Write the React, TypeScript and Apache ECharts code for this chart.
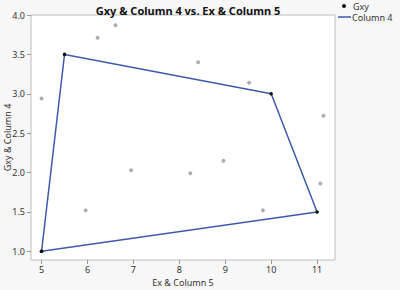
import React, { useEffect, useRef } from "react";
import * as echarts from "echarts";

const gxyX = [5.0, 6.22, 6.61, 8.41, 9.52, 11.14, 5.96, 6.95, 8.24, 8.96, 9.82, 11.07];
const gxyY = [2.94, 3.71, 3.87, 3.4, 3.14, 2.72, 1.52, 2.03, 1.99, 2.15, 1.52, 1.86];
const col4X = [5, 5.5, 10, 11, 5];
const col4Y = [1.0, 3.5, 3.0, 1.5, 1.0];
const xTicks = [5, 6, 7, 8, 9, 10, 11];
const yTicks = [1.0, 1.5, 2.0, 2.5, 3.0, 3.5, 4.0];

const FONT = "'Noto Sans', 'DejaVu Sans', sans-serif";
const BLUE = "#3d5ab0";

export default function App() {
  const ref = useRef<HTMLDivElement>(null);
  useEffect(() => {
    if (!ref.current) return;
    const chart = echarts.init(ref.current, undefined, { renderer: "svg" });
    const axisLabel = { color: "#333", fontSize: 9, lineHeight: 10, fontFamily: FONT };
    chart.setOption({
      animation: false,
      backgroundColor: "#f7f7f7",
      title: {
        text: "Gxy & Column 4 vs. Ex & Column 5",
        left: 183,
        textAlign: "center",
        top: 0,
        textStyle: { fontSize: 11, fontWeight: "bold", color: "#111", fontFamily: FONT },
      },
      grid: {
        left: 31,
        right: 65,
        top: 15,
        bottom: 30,
        show: true,
        backgroundColor: "#ffffff",
        borderColor: "#bdbdbd",
        borderWidth: 1,
        containLabel: false,
        outerBoundsMode: "none",
      },
      xAxis: {
        type: "value",
        min: 4.77,
        max: 11.39,
        name: "Ex & Column 5",
        nameLocation: "middle",
        nameGap: 17,
        nameMoveOverlap: false,
        nameTextStyle: { color: "#333", fontSize: 9, lineHeight: 10, fontFamily: FONT },
        axisLine: { show: false },
        splitLine: { show: false },
        axisTick: { show: true, length: 4, lineStyle: { color: "#999" }, customValues: xTicks },
        axisLabel: { ...axisLabel, margin: 4, customValues: xTicks },
      },
      yAxis: {
        type: "value",
        min: 0.89,
        max: 4.0,
        name: "Gxy & Column 4",
        nameLocation: "middle",
        nameGap: 19,
        nameMoveOverlap: false,
        nameTextStyle: { color: "#333", fontSize: 9, lineHeight: 10, fontFamily: FONT },
        axisLine: { show: false },
        splitLine: { show: false },
        axisTick: { show: true, length: 4, lineStyle: { color: "#999" }, customValues: yTicks },
        axisLabel: {
          ...axisLabel,
          margin: 6,
          customValues: yTicks,
          formatter: (v: number) => v.toFixed(1),
        },
      },
      series: [
        {
          name: "Gxy",
          type: "scatter",
          symbol: "circle",
          symbolSize: 4,
          itemStyle: { color: "#9a9a9a" },
          data: gxyX.map((x, i) => [x, gxyY[i]]),
        },
        {
          name: "Column 4",
          type: "line",
          symbol: "circle",
          symbolSize: 3.5,
          showSymbol: true,
          itemStyle: { color: "#111" },
          lineStyle: { color: BLUE, width: 1.5 },
          data: col4X.map((x, i) => [x, col4Y[i]]),
        },
      ],
      graphic: [
        { type: "circle", shape: { cx: 344, cy: 6, r: 2 }, style: { fill: "#111" } },
        {
          type: "text",
          x: 353,
          y: 6,
          style: { text: "Gxy", fontSize: 9, fontFamily: FONT, fill: "#333", verticalAlign: "middle" },
        },
        {
          type: "line",
          shape: { x1: 338, y1: 17, x2: 351, y2: 17 },
          style: { stroke: BLUE, lineWidth: 1.5 },
        },
        {
          type: "text",
          x: 352,
          y: 17.5,
          style: { text: "Column 4", fontSize: 9, fontFamily: FONT, fill: "#333", verticalAlign: "middle" },
        },
      ],
    });
    return () => chart.dispose();
  }, []);
  return <div ref={ref} style={{ width: 400, height: 290, position: "absolute", left: 0, top: 0 }} />;
}
